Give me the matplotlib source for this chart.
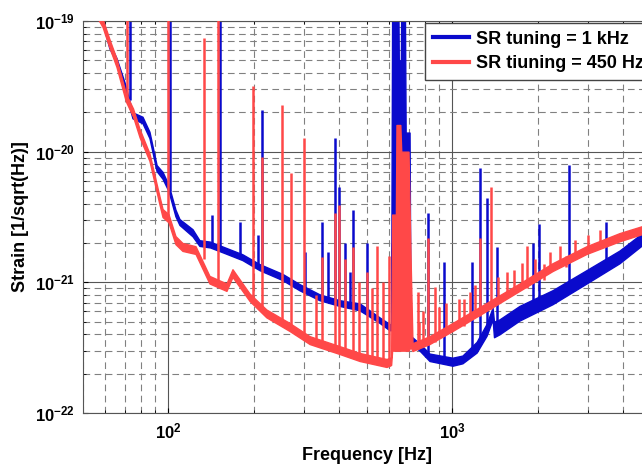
import matplotlib
matplotlib.use('Agg')
import matplotlib.pyplot as plt
from matplotlib.lines import Line2D
from matplotlib.ticker import NullFormatter

plt.rcParams['font.family'] = 'Liberation Sans'
plt.rcParams['font.weight'] = 'bold'
plt.rcParams['mathtext.fontset'] = 'custom'
plt.rcParams['mathtext.rm'] = 'Liberation Sans:bold'
plt.rcParams['mathtext.bf'] = 'Liberation Sans:bold'
plt.rcParams['mathtext.default'] = 'bf'

# noise band of each spectrum: frequency [Hz], lower and upper edge [1/sqrt(Hz)]
blue_f = [57, 58.6, 61.9, 65.6, 70.0, 74.7, 81.0, 85.7, 90.8, 95.3, 100, 105.8, 109.3,
          121.5, 128.5, 140, 157, 182, 209, 252, 289, 340, 400, 471, 553, 600,
          608, 613, 645, 647, 658, 660, 680, 684, 706, 712,
          766, 830, 1000, 1084, 1216, 1318, 1384, 1400, 1463, 1722, 2250, 2965, 3873, 4620, 5000]
blue_lo = [1.05e-19, 9.6e-20, 6.2e-20, 4.8e-20, 3.0e-20, 1.8e-20, 1.65e-20, 1.27e-20, 7.1e-21, 6.2e-21, 5.0e-21, 3.2e-21, 2.75e-21,
           2.25e-21, 1.9e-21, 1.85e-21, 1.68e-21, 1.48e-21, 1.24e-21, 1.04e-21, 8.7e-22, 7.3e-22, 6.6e-22, 6.1e-22, 4.9e-22, 4.3e-22,
           4.3e-22, 2e-21, 2e-21, 2e-21, 2e-21, 2e-21, 2e-21, 1.5e-21, 8e-22, 3.4e-22,
           3.0e-22, 2.5e-22, 2.3e-22, 2.4e-22, 2.9e-22, 3.9e-22, 5.2e-22, 3.8e-22, 4.0e-22, 5.1e-22, 6.8e-22, 9.8e-22, 1.4e-21, 1.9e-21, 2.05e-21]
blue_hi = [1.15e-19, 1.04e-19, 6.8e-20, 5.2e-20, 3.4e-20, 2.0e-20, 1.85e-20, 1.42e-20, 7.9e-21, 7.0e-21, 5.6e-21, 3.6e-21, 3.05e-21,
           2.55e-21, 2.1e-21, 2.05e-21, 1.86e-21, 1.64e-21, 1.38e-21, 1.16e-21, 9.7e-22, 8.1e-22, 7.3e-22, 6.9e-22, 5.4e-22, 4.8e-22,
           4.8e-22, 1.2e-19, 1.2e-19, 5e-20, 5e-20, 1.2e-19, 1.2e-19, 1.4e-20, 1.4e-20, 3.9e-22,
           3.4e-22, 2.85e-22, 2.65e-22, 2.75e-22, 3.5e-22, 4.8e-22, 6.4e-22, 5.0e-22, 5.2e-22, 6.6e-22, 8.7e-22, 1.24e-21, 1.75e-21, 2.35e-21, 2.5e-21]

red_f = [56.7, 58.6, 61.9, 65.6, 70.8, 75, 79.1, 85.7, 92.9, 95.3, 100, 105.8, 112,
         124.5, 139.4, 160, 168, 193, 221, 267, 314, 400, 471, 586, 608,
         613, 632, 635, 655, 660, 700, 712, 723,
         830, 1000, 1318, 1722, 2250, 2965, 3873, 4620, 5000]
red_lo = [1.02e-19, 9.0e-20, 6.3e-20, 4.45e-20, 2.42e-20, 1.86e-20, 1.29e-20, 8.5e-21, 3.97e-21, 3.16e-21, 2.88e-21, 1.96e-21, 1.74e-21,
          1.65e-21, 9.8e-22, 8.6e-22, 1.1e-21, 7.2e-22, 5.4e-22, 4.24e-22, 3.37e-22, 2.83e-22, 2.5e-22, 2.25e-22, 2.33e-22,
          3e-22, 3e-22, 3e-22, 3e-22, 3e-22, 3e-22, 3.2e-22, 2.98e-22,
          3.37e-22, 4.24e-22, 6.05e-22, 8.6e-22, 1.22e-21, 1.65e-21, 2.06e-21, 2.33e-21, 2.44e-21]
red_hi = [1.18e-19, 1.04e-19, 7.3e-20, 5.15e-20, 2.78e-20, 2.14e-20, 1.49e-20, 9.7e-21, 4.57e-21, 3.64e-21, 3.32e-21, 2.26e-21, 2.0e-21,
          1.89e-21, 1.12e-21, 9.8e-22, 1.26e-21, 8.2e-22, 6.2e-22, 4.88e-22, 3.87e-22, 3.25e-22, 2.88e-22, 2.59e-22, 2.67e-22,
          3.3e-21, 3.3e-21, 1.6e-20, 1.6e-20, 1.0e-20, 1.0e-20, 1.5e-21, 3.42e-22,
          3.87e-22, 4.88e-22, 6.95e-22, 9.8e-22, 1.4e-21, 1.89e-21, 2.38e-21, 2.68e-21, 2.8e-21]

# narrow lines: frequency, base, top
blue_pk_f = [73, 101.5, 142, 151.5, 178, 206, 214, 303, 348, 363, 385, 400, 417, 434, 448, 498,
             817, 937, 1175, 1245, 1318, 1439, 1914, 2023, 2582, 3484]
blue_pk_lo = [2.5e-20, 5e-21, 2e-21, 1.8e-21, 1.6e-21, 1.35e-21, 1.3e-21, 9e-22, 7.6e-22, 7.4e-22, 7e-22, 7e-22, 6.9e-22, 6.8e-22, 6.7e-22, 6e-22,
              2.8e-22, 2.5e-22, 3e-22, 3.3e-22, 4.3e-22, 5e-22, 6.5e-22, 7e-22, 9e-22, 1.3e-21]
blue_pk_hi = [1.2e-19, 1.2e-19, 3.3e-21, 1.2e-19, 2.9e-21, 2.3e-21, 2.08e-20, 1.7e-21, 2.9e-21, 1.7e-21, 1.27e-20, 5.4e-21, 2.0e-21, 1.2e-21, 3.6e-21, 2.0e-21,
              3.4e-21, 1.43e-21, 1.43e-21, 7.5e-21, 4.4e-21, 1.87e-21, 2.0e-21, 2.8e-21, 7.9e-21, 2.9e-21]

red_pk_f = [71.5, 99.5, 133, 149.5, 199, 214, 250, 269, 299, 330, 348, 385, 400, 417, 448, 470, 498, 520, 544, 570, 600,
            754, 760, 790, 817, 865, 900, 950, 1050, 1100, 1150, 1200, 1245, 1371, 1450, 1550, 1650, 1750, 1837,
            1950, 2100, 2200, 2400, 2500, 2700, 3000, 3300]
red_pk_lo = [2.4e-20, 3e-21, 1.5e-21, 1e-21, 7.5e-22, 6.5e-22, 5e-22, 4.5e-22, 3.9e-22, 3.5e-22, 3.4e-22, 3e-22, 3e-22, 2.9e-22, 2.7e-22, 2.7e-22, 2.6e-22, 2.5e-22, 2.4e-22, 2.4e-22, 2.3e-22,
             3.1e-22, 3.3e-22, 3.4e-22, 3.3e-22, 3.5e-22, 3.9e-22, 4.2e-22, 4.7e-22, 4.6e-22, 5.3e-22, 5.6e-22, 5.5e-22, 6.3e-22, 7.3e-22, 7.9e-22, 8.6e-22, 9.3e-22, 9e-22,
             1.05e-21, 1.05e-21, 1.26e-21, 1.4e-21, 1.3e-21, 1.6e-21, 1.78e-21, 1.95e-21]
red_pk_hi = [1.2e-19, 1.2e-19, 7.4e-20, 1.2e-19, 3.2e-20, 9.1e-21, 2.28e-20, 6.9e-21, 1.27e-20, 8e-22, 1.55e-21, 3.4e-21, 3.9e-21, 1.5e-21, 1.85e-21, 1.0e-21, 1.2e-21, 9e-22, 1.9e-21, 1.0e-21, 1.6e-21,
             8.5e-22, 5e-22, 6e-22, 2.2e-21, 9.2e-22, 6.5e-22, 7e-22, 7.5e-22, 7.4e-22, 8.5e-22, 9.5e-22, 2.2e-21, 5.4e-21, 1.1e-21, 1.2e-21, 1.25e-21, 1.4e-21, 1.9e-21,
             1.5e-21, 1.37e-21, 1.7e-21, 1.9e-21, 1.6e-21, 2.1e-21, 2.3e-21, 2.5e-21]

labels = ['SR tuning = 1 kHz', 'SR tiuning = 450 Hz']
blue = '#0a0acc'
red = '#ff4848'

fig = plt.figure(figsize=(6.42, 4.66), dpi=100)
ax = fig.add_axes([83 / 642, 53 / 466, 568 / 642, 392 / 466])

ax.fill_between(blue_f, blue_lo, blue_hi, color=blue, lw=1.0, zorder=2)
ax.vlines(blue_pk_f, blue_pk_lo, blue_pk_hi, color=blue, lw=1.8, zorder=2)
ax.fill_between(red_f, red_lo, red_hi, color=red, lw=1.0, zorder=3)
ax.vlines(red_pk_f, red_pk_lo, red_pk_hi, color=red, lw=1.8, zorder=3)

ax.set_xscale('log')
ax.set_yscale('log')
ax.set_xlim(50, 5000)
ax.set_ylim(1e-22, 1e-19)
ax.set_xticks([1e2, 1e3])
ax.set_yticks([1e-22, 1e-21, 1e-20, 1e-19])
ax.set_xticks([f * m for m in (10, 100, 1000) for f in range(2, 10) if 50 <= f * m <= 5000], minor=True)
ax.set_yticks([f * m for m in (1e-22, 1e-21, 1e-20) for f in range(2, 10)], minor=True)
ax.xaxis.set_minor_formatter(NullFormatter())
ax.yaxis.set_minor_formatter(NullFormatter())

ax.set_axisbelow(True)
ax.grid(which='major', color='#555555', lw=0.8, ls='-')
ax.grid(which='minor', color='#808080', lw=0.8, ls=(0, (6, 4)))
ax.tick_params(which='both', direction='in', top=True, right=True, labelsize=12, pad=6)
for s in ax.spines.values():
    s.set_color('#555555')
    s.set_linewidth(0.8)

ax.set_xlabel('Frequency [Hz]', fontsize=13, fontweight='bold', labelpad=4)
ax.set_ylabel('Strain [1/sqrt(Hz)]', fontsize=13, fontweight='bold', labelpad=4)

handles = [Line2D([], [], color=blue, lw=3), Line2D([], [], color=red, lw=3)]
ax.legend(handles, labels, loc='upper left', bbox_to_anchor=(0.602, 0.996), borderaxespad=0,
          prop={'weight': 'bold', 'size': 13}, fancybox=False, framealpha=1,
          edgecolor='#444444', handlelength=2.0, handletextpad=0.4, borderpad=0.45,
          labelspacing=0.4)

fig.savefig('out.png', dpi=100)
